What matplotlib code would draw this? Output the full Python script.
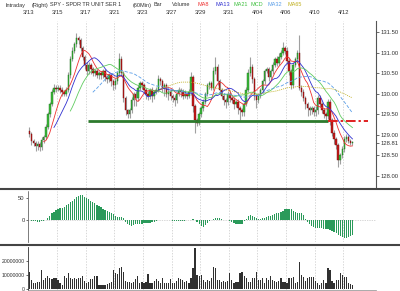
import numpy as np
import pandas as pd
import matplotlib
matplotlib.use("Agg")
import matplotlib.pyplot as plt

plt.rcParams["font.family"] = ["Liberation Sans", "DejaVu Sans"]

# 60-minute closes, 3/13 .. 4/12 (7 bars a day, 5 on the last day)
close = [
    129.02, 128.85, 128.80, 128.72, 128.78, 128.70, 128.88,
    128.95, 129.20, 129.50, 129.75, 130.05, 130.15, 130.12,
    130.15, 130.10, 130.05, 130.00, 130.10, 130.45, 130.85,
    131.05, 131.20, 131.35, 131.30, 131.10, 130.90, 130.70,
    130.55, 130.70, 130.60, 130.50, 130.55, 130.45, 130.50,
    130.45, 130.55, 130.40, 130.35, 130.45, 130.30, 130.20,
    130.30, 130.50, 130.85, 130.50, 129.90, 129.60, 129.50,
    129.60, 129.85, 130.00, 129.90, 130.15, 130.25, 130.20,
    130.10, 130.00, 129.95, 130.10, 129.95, 130.05, 130.10,
    130.35, 130.30, 130.15, 130.20, 130.00, 130.05, 129.95,
    129.90, 129.85, 130.00, 130.10, 130.05, 129.95, 130.00,
    129.95, 130.05, 130.40, 129.70, 129.35, 129.30, 129.50,
    129.65, 129.80, 130.00, 130.20, 130.25, 130.15, 130.55,
    130.65, 130.30, 130.10, 129.95, 129.85, 129.80, 130.00,
    129.90, 129.85, 129.75, 129.80, 129.65, 129.60, 129.55,
    129.75, 130.10, 130.50, 130.65, 130.35, 129.95, 129.85,
    129.95, 130.10, 130.30, 130.55, 130.60, 130.40, 130.55,
    130.70, 130.85, 130.75, 130.90, 131.00, 131.10, 131.05,
    130.80, 130.55, 130.20, 130.70, 130.85, 131.00, 130.15,
    130.05, 129.90, 129.75, 129.65, 129.60, 129.65, 129.55,
    129.60, 129.90, 129.75, 129.60, 129.50, 129.45, 129.80,
    129.35, 129.05, 128.90, 128.75, 128.40, 128.50, 128.65,
    128.90, 128.95, 128.85, 128.80, 128.81,
]
first_open = 129.10
# wick lengths in cents above / below the body
up_wick = [
    8, 5, 6, 4, 6, 5, 6,   5, 6, 5, 4, 6, 8, 6,   6, 5, 6, 5, 6, 8, 6,
    8, 6, 12, 6, 5, 6, 5,  8, 6, 5, 6, 5, 6, 5,   6, 5, 6, 5, 6, 5, 6,
    8, 6, 13, 6, 5, 5, 4,  5, 6, 5, 6, 5, 6, 5,   6, 5, 6, 5, 6, 5, 6,
    10, 6, 5, 6, 5, 6, 5,  5, 6, 5, 6, 5, 6, 8,   5, 6, 12, 6, 5, 6, 5,
    5, 6, 5, 6, 5, 6, 10,  25, 8, 6, 5, 6, 5, 6,  6, 5, 6, 5, 6, 5, 6,
    5, 6, 10, 25, 8, 6, 5, 6, 5, 6, 5, 6, 5, 6,   6, 5, 6, 8, 6, 15, 6,
    8, 6, 5, 6, 5, 6, 42,  5, 6, 5, 6, 5, 6, 5,   10, 8, 6, 5, 6, 5, 8,
    6, 5, 6, 5, 6, 5, 8,   8, 6, 5, 6, 4,
]
lo_wick = [
    6, 10, 8, 12, 8, 10, 6,  8, 6, 5, 6, 5, 6, 8,    6, 8, 10, 6, 5, 5, 6,
    6, 5, 6, 8, 6, 8, 10,    10, 8, 12, 6, 8, 6, 8,  8, 6, 10, 8, 6, 12, 10,
    8, 6, 6, 8, 10, 12, 8,   10, 8, 15, 20, 8, 6, 8, 8, 12, 10, 8, 15, 8, 6,
    6, 8, 10, 20, 8, 15, 10, 10, 15, 8, 6, 12, 8, 6, 8, 6, 8, 15, 30, 8, 6,
    6, 8, 6, 5, 8, 6, 6,     6, 8, 10, 8, 12, 15, 8, 10, 8, 12, 8, 15, 25, 10,
    8, 6, 5, 6, 8, 10, 20,   8, 6, 8, 6, 5, 8, 6,    8, 6, 8, 6, 5, 6, 8,
    8, 10, 8, 6, 5, 8, 6,    10, 8, 12, 20, 12, 10, 8, 8, 10, 8, 6, 10, 8, 6,
    10, 8, 12, 10, 18, 12, 6, 6, 8, 6, 5, 4,
]
# volume in millions of shares
volume_m = [
    11.9, 6.4, 4.0, 4.5, 5.2, 5.0, 13.6, 6.4, 7.6, 9.3,
    8.0, 6.9, 7.6, 7.6, 6.4, 4.0, 2.9, 9.3, 7.6, 11.2,
    7.6, 6.9, 7.6, 6.9, 7.6, 7.6, 9.3, 5.9, 4.5, 5.2,
    6.9, 6.9, 9.3, 9.3, 2.9, 2.9, 2.9, 2.9, 3.5, 4.0,
    5.2, 13.6, 11.2, 10.5, 14.8, 15.5, 12.4, 5.9, 5.2, 5.2,
    4.5, 5.2, 6.9, 9.3, 4.0, 5.2, 4.5, 5.2, 10.7, 4.0,
    4.0, 5.9, 6.9, 5.9, 4.0, 7.6, 4.5, 4.0, 4.0, 6.9,
    4.5, 4.0, 5.9, 7.6, 6.9, 6.4, 5.2, 5.9, 4.0, 7.6,
    14.8, 29.0, 10.0, 9.3, 10.0, 6.4, 5.2, 6.4, 6.0, 7.6,
    15.9, 14.8, 6.4, 6.4, 5.2, 5.9, 5.2, 5.5, 11.2, 6.4,
    4.0, 5.2, 5.2, 11.2, 12.4, 9.3, 7.6, 5.2, 5.2, 7.6,
    7.6, 12.4, 6.4, 6.4, 7.6, 4.0, 7.6, 6.4, 9.3, 6.4,
    5.9, 5.2, 5.9, 7.6, 5.2, 5.2, 4.0, 7.6, 7.6, 8.3,
    4.0, 5.2, 19.5, 10.0, 8.8, 5.9, 7.6, 8.3, 8.8, 8.8,
    5.9, 4.0, 2.9, 4.0, 6.4, 4.0, 14.8, 13.6, 5.9, 4.0,
    6.4, 6.4, 11.4, 10.0, 8.3, 8.3, 4.0, 3.6, 3.0,
]
# MCD panel values
mcd = [
    -1, -2, -3, -3, -4, -4, -3, -2, 0, 4,
    9, 15, 19, 22, 25, 27, 28, 30, 33, 36,
    40, 44, 48, 52, 55, 57, 56, 53, 50, 47,
    44, 41, 38, 35, 32, 29, 26, 23, 20, 18,
    16, 14, 10, 7, 6, 7, 4, -4, -9, -12,
    -13, -12, -10, -9, -8, -8, -7, -6, -7, -6,
    -5, -4, -3, -1, 1, 1, 0, 1, 0, -1,
    -2, -3, -3, -2, -2, -3, -2, -1, 0, 1,
    2, 1, -4, -9, -13, -15, -12, -7, -2, 1,
    3, 5, 5, 4, 3, 1, 0, -1, -2, -4,
    -6, -8, -9, -10, -8, -3, 3, 8, 11, 10,
    7, 4, 2, 3, 4, 5, 6, 8, 10, 12,
    14, 15, 17, 19, 21, 24, 26, 25, 24, 21,
    18, 17, 17, 16, 12, 2, -5, -10, -13, -16,
    -18, -19, -19, -19, -20, -20, -21, -22, -24, -27,
    -30, -33, -36, -39, -41, -40, -38, -36, -34,
]
date_labels = ["3/13", "3/15", "3/17", "3/21", "3/23", "3/27",
               "3/29", "3/31", "4/04", "4/06", "4/10", "4/12"]
date_bar = [0, 14, 28, 42, 56, 70, 84, 98, 112, 126, 140, 154]
price_ticks = [128.0, 128.5, 128.81, 129.0, 129.5, 130.0, 130.5, 131.0, 131.5]
support = 129.33
support_span = (28.5, 146)
break_end = 165.5

n = len(close)
x = np.arange(n)
c = np.array(close)
o = np.r_[first_open, c[:-1]]
hi = np.maximum(o, c) + np.array(up_wick) / 100
lo = np.minimum(o, c) - np.array(lo_wick) / 100

fig = plt.figure(figsize=(4.0, 2.91), dpi=100)
W, H = 400, 291
def box(y_top, y_bot):
    return [28 / W, 1 - y_bot / H, (376 - 28) / W, (y_bot - y_top) / H]

ax = fig.add_axes(box(21, 188))
axm = fig.add_axes(box(191, 242), sharex=ax)
axv = fig.add_axes(box(247, 290), sharex=ax)

grid_x = [b - 0.5 for b in date_bar[1:]]
for a in (ax, axm, axv):
    for g in grid_x:
        a.axvline(g, color="#c8c8c8", lw=0.5, ls=(0, (2, 2)), zorder=0)

# price panel
ax.vlines(x, lo, hi, color="#a0a0a0", lw=0.8, zorder=1)
body = c - o
body = np.where(np.abs(body) < 0.02, np.where(body >= 0, 0.02, -0.02), body)
up = c >= o
ax.bar(x, body, bottom=o, width=0.72,
       color=np.where(up, "#3cba3c", "#c81818"),
       edgecolor=np.where(up, "#1a6e1a", "#6e1010"), lw=0.3, zorder=2)

s = pd.Series(c)
ma_style = [(8, "#ee3030", "-"), (13, "#3030d0", "-"), (21, "#60cc60", "-"),
            (32, "#5a9ee8", (0, (4, 2))), (65, "#c0b020", (0, (1.2, 1.2)))]
for w, col, ls in ma_style:
    ax.plot(x, s.rolling(w).mean(), color=col, lw=0.6, ls=ls, zorder=3)

ax.hlines(support, *support_span, color="#2d7a2d", lw=2.0, zorder=4)
ax.plot([support_span[1], break_end], [support, support], color="#e02020",
        lw=1.4, ls=(0, (5, 1.5, 1.2, 1.5)), zorder=4)

ax.set_xlim(-0.7, 169.5)
ax.set_ylim(127.708, 131.768)
ax.yaxis.tick_right()
ax.set_yticks(price_ticks)
ax.set_yticklabels([f"{t:.2f}" for t in price_ticks])
ax.tick_params(axis="y", labelsize=4.2, length=2, width=0.5, pad=1,
               colors="#333333")
ax.tick_params(axis="x", bottom=False, labelbottom=False)
for sp in ("left", "top", "bottom"):
    ax.spines[sp].set_visible(False)
ax.spines["right"].set_color("#555555")
ax.spines["right"].set_linewidth(0.8)

# MCD panel
axm.bar(x, mcd, width=0.6, color="#2a9a5a", zorder=2)
axm.axhline(0, color="#b0b0b0", lw=0.5, ls=(0, (1, 1.5)), zorder=1)
axm.set_ylim(-50, 65.9)
axm.set_yticks([0, 50])
axm.tick_params(axis="y", labelsize=4.2, length=1.5, width=0.5, pad=1,
                colors="#333333")
axm.tick_params(axis="x", bottom=False, labelbottom=False)
for sp in ("right", "top", "bottom"):
    axm.spines[sp].set_visible(False)
axm.spines["left"].set_color("#666666")
axm.spines["left"].set_linewidth(0.6)
axm.spines["left"].set_linestyle((0, (1, 1)))

# volume panel
axv.bar(x, volume_m, width=0.6, color="#303030", zorder=2)
axv.set_ylim(-0.71, 30)
axv.set_yticks([0, 10, 20])
axv.set_yticklabels(["0", "10000000", "20000000"])
axv.tick_params(axis="y", labelsize=3.7, length=1.5, width=0.5, pad=0.8,
                colors="#333333")
axv.tick_params(axis="x", bottom=False, labelbottom=False)
for sp in ("right", "top"):
    axv.spines[sp].set_visible(False)
axv.spines["left"].set_color("#333333")
axv.spines["left"].set_linewidth(0.6)
axv.spines["bottom"].set_color("#888888")
axv.spines["bottom"].set_linewidth(0.5)

# panel separators
for yy in (189, 245):
    fig.add_artist(plt.Line2D([0, 1], [1 - yy / H] * 2, color="#444444",
                              lw=1.5, transform=fig.transFigure))

# header
hdr = [("Intraday", 6, "#333333"), ("(Right)", 32, "#333333"),
       ("SPY - SPDR TR UNIT SER 1", 50, "#333333"), ("(60Min)", 133, "#333333"),
       ("Bar", 153, "#333333"), ("Volume", 172, "#333333"),
       ("MA8", 198, "#ee3030"), ("MA13", 215, "#3030d0"),
       ("MA21", 233, "#40c040"), ("MCD", 251, "#40c040"),
       ("MA32", 268, "#5a9ee8"), ("MA65", 288, "#c0b020")]
for t, px, col in hdr:
    fig.text(px / W, 1 - 5 / H, t, fontsize=4.0, color=col, ha="left",
             va="center")

for lab, b in zip(date_labels, date_bar):
    xd = ax.transData.transform((b - 0.5, 0))[0]
    fig.text(xd / fig.dpi / fig.get_figwidth(), 1 - 13 / H, lab, fontsize=4.2,
             color="#333333", ha="center", va="center")

fig.savefig("out.png", dpi=100)
